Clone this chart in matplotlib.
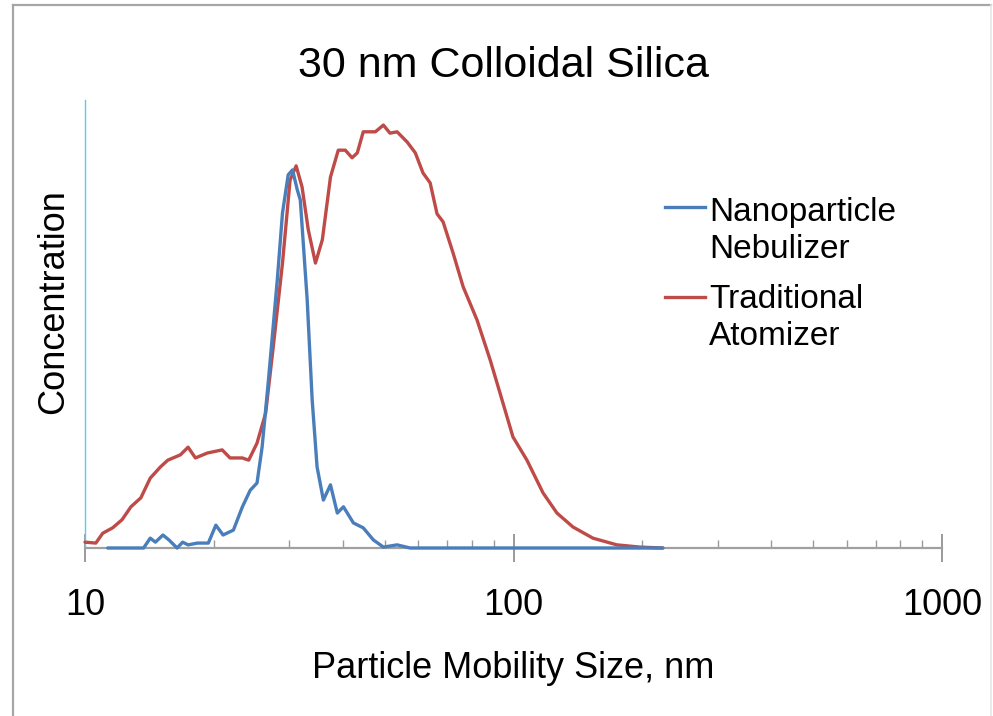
import matplotlib
matplotlib.use("Agg")
import matplotlib.pyplot as plt
from matplotlib.lines import Line2D
from matplotlib.ticker import LogLocator, NullFormatter, FixedLocator, FixedFormatter

plt.rcParams["font.family"] = ["Liberation Sans", "DejaVu Sans"]

# Size distributions (mobility diameter in nm, relative concentration)
neb_size = [11.3, 13.7, 14.2, 14.6, 15.2, 15.7, 16.4, 16.9, 17.4, 18.3, 19.4,
            20.2, 21.0, 22.2, 23.3, 24.3, 25.2, 25.9, 26.8, 28.1, 28.9, 29.8,
            30.5, 31.3, 31.8, 33.0, 33.9, 34.8, 36.0, 37.4, 38.8, 40.1, 42.3,
            44.6, 47.1, 49.7, 53.5, 57.4, 63.9, 93.0, 128.3, 223.1]
neb_conc = [0.0, 0.0, 2.2, 1.3, 2.9, 1.8, 0.0, 1.3, 0.7, 1.1, 1.1,
            5.1, 2.9, 4.0, 9.2, 12.9, 14.5, 22.5, 37.5, 59.8, 74.8, 83.3,
            84.4, 79.9, 77.7, 55.4, 33.0, 18.1, 10.7, 14.1, 7.8, 9.2, 5.6,
            4.5, 1.8, 0.2, 0.7, 0.0, 0.0, 0.0, 0.0, 0.0]

atom_size = [10.0, 10.6, 11.0, 11.6, 12.2, 12.8, 13.5, 14.2, 15.0, 15.6, 16.7,
             17.4, 18.1, 19.3, 20.9, 21.8, 23.3, 24.1, 25.2, 26.4, 27.5, 28.9,
             30.1, 31.1, 32.1, 33.2, 34.5, 35.8, 37.4, 39.0, 40.5, 42.0, 43.2,
             44.6, 47.6, 49.7, 51.5, 53.5, 56.5, 59.0, 61.5, 63.9, 66.3, 68.5,
             72.3, 76.3, 82.2, 88.2, 93.0, 99.7, 107.5, 117.2, 126.3, 137.6,
             153.2, 174.3, 197.2, 223.1]
atom_conc = [1.3, 1.1, 3.3, 4.5, 6.3, 9.2, 11.2, 15.6, 18.1, 19.6, 20.8,
             22.5, 20.1, 21.2, 21.9, 20.1, 20.1, 19.6, 23.4, 30.1, 44.9, 63.6,
             82.1, 85.3, 80.6, 71.0, 63.6, 68.8, 82.8, 88.8, 88.8, 87.1, 88.2,
             92.9, 92.9, 94.4, 92.6, 92.9, 90.6, 88.2, 83.7, 81.5, 74.6, 72.8,
             65.8, 58.3, 50.9, 42.0, 34.6, 24.8, 19.6, 12.3, 7.8, 4.7,
             2.2, 0.7, 0.2, 0.0]

labels = ["Nanoparticle\nNebulizer", "Traditional\nAtomizer"]
colors = ["#4A7EBB", "#BE4B48"]
major_ticks = [10, 100, 1000]
major_labels = ["10", "100", "1000"]

W, H = 993, 716
fig = plt.figure(figsize=(W / 100, H / 100), dpi=100)
ax = fig.add_axes([85 / W, 1 - 548 / H, (942 - 85) / W, (548 - 100) / H])

ax.plot(neb_size, neb_conc, color=colors[0], lw=2.4, clip_on=False, zorder=4,
        solid_joinstyle="round", solid_capstyle="round")
ax.plot(atom_size, atom_conc, color=colors[1], lw=2.4, clip_on=False, zorder=3,
        solid_joinstyle="round", solid_capstyle="round")

ax.set_xscale("log")
ax.set_xlim(10, 1000)
ax.set_ylim(0, 100)

ax.xaxis.set_major_locator(FixedLocator(major_ticks))
ax.xaxis.set_major_formatter(FixedFormatter(major_labels))
ax.xaxis.set_minor_locator(LogLocator(base=10, subs=range(2, 10)))
ax.xaxis.set_minor_formatter(NullFormatter())
ax.tick_params(axis="x", which="major", direction="inout", length=20,
               width=1.4, color="#9A9A9A", labelsize=26, pad=19)
ax.tick_params(axis="x", which="minor", direction="in", length=6,
               width=1.0, color="#9A9A9A")
ax.set_yticks([])

for side in ("top", "right"):
    ax.spines[side].set_visible(False)
ax.spines["bottom"].set_color("#A0A0A0")
ax.spines["bottom"].set_linewidth(1.6)
ax.spines["left"].set_color("#4FD0F0")
ax.spines["left"].set_linewidth(1.0)

ax.set_xlabel("Particle Mobility Size, nm", fontsize=26, labelpad=20)
ax.set_ylabel("Concentration", fontsize=26)
ax.yaxis.set_label_coords(-0.016, 0.55)
fig.text(504 / W, 1 - 66 / H, "30 nm Colloidal Silica", fontsize=31,
         ha="center", va="center")

# legend: short line beside the first line of each two-line label
handle_y = [207, 297]
text_top = [197, 284]
for lab, col, hy, ty in zip(labels, colors, handle_y, text_top):
    fig.add_artist(Line2D([665 / W, 705 / W], [1 - hy / H, 1 - hy / H],
                          color=col, lw=2.4, transform=fig.transFigure))
    fig.text(709 / W, 1 - ty / H, lab, fontsize=24, ha="left", va="top",
             linespacing=1.25)

# outer frame
fig.add_artist(Line2D([13 / W, 13 / W], [0, 1 - 5 / H], color="#A6A6A6",
                      lw=1.6, transform=fig.transFigure))
fig.add_artist(Line2D([13 / W, 991 / W], [1 - 5 / H, 1 - 5 / H],
                      color="#A6A6A6", lw=1.6, transform=fig.transFigure))
fig.add_artist(Line2D([991 / W, 991 / W], [0, 1 - 5 / H], color="#E6E6E6",
                      lw=1.2, transform=fig.transFigure))

fig.savefig("out.png", dpi=100)
